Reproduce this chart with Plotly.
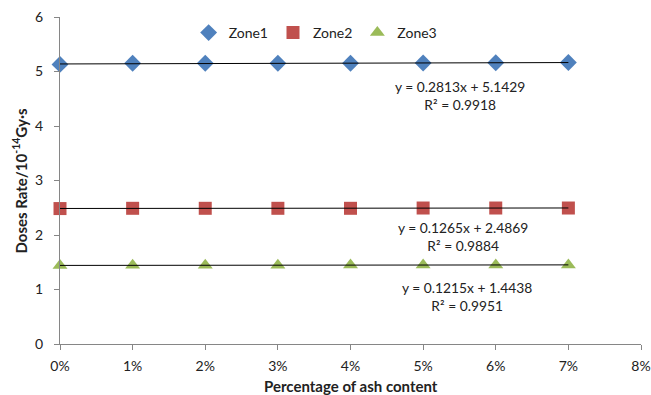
import numpy as np
import plotly.graph_objects as go

ash_pct = [0.00, 0.01, 0.02, 0.03, 0.04, 0.05, 0.06, 0.07]
zone1 = [5.13, 5.15, 5.15, 5.15, 5.15, 5.155, 5.16, 5.165]
zone2 = [2.485, 2.49, 2.49, 2.49, 2.49, 2.495, 2.495, 2.495]
zone3 = [1.44, 1.445, 1.445, 1.445, 1.45, 1.45, 1.45, 1.45]
series_names = ["Zone1", "Zone2", "Zone3"]
equations = ["y = 0.2813x + 5.1429<br>R² = 0.9918",
             "y = 0.1265x + 2.4869<br>R² = 0.9884",
             "y = 0.1215x + 1.4438<br>R² = 0.9951"]
eq_pos = [(0.0551, 4.56), (0.0555, 1.97), (0.0561, 0.87)]
x_ticks = [0.00, 0.01, 0.02, 0.03, 0.04, 0.05, 0.06, 0.07, 0.08]
y_ticks = [0, 1, 2, 3, 4, 5, 6]
x_title = "<b>Percentage of ash content</b>"
y_title = "<b>Doses Rate/10<sup>-14</sup>Gy·s</b>"

colors = ["#4F81BD", "#C0504D", "#9BBB59"]
symbols = ["diamond", "square", "triangle-up"]
sizes = [13, 13, 13]

fig = go.Figure()
all_series = [zone1, zone2, zone3]
for name, ys, c, s, sz in zip(series_names, all_series, colors, symbols, sizes):
    fig.add_trace(go.Scatter(x=ash_pct, y=ys, mode="markers", name=name,
                             marker=dict(color=c, symbol=s, size=sz, line=dict(width=0)),
                             cliponaxis=False))
for ys in all_series:
    k, b = np.polyfit(ash_pct, ys, 1)
    xs = [ash_pct[0], ash_pct[-1]]
    fig.add_trace(go.Scatter(x=xs, y=[k * v + b for v in xs], mode="lines",
                             line=dict(color="black", width=1), showlegend=False,
                             hoverinfo="skip", cliponaxis=False))

for txt, (ex, ey) in zip(equations, eq_pos):
    fig.add_annotation(x=ex, y=ey, text=txt, showarrow=False, xref="x", yref="y",
                       font=dict(size=13.8, color="#222222"), align="center")

# axis titles
fig.add_annotation(x=0.5, y=0, xref="paper", yref="paper", text=x_title, showarrow=False,
                   yshift=-42, yanchor="middle", xanchor="center",
                   font=dict(size=15, color="#222222"))
fig.add_annotation(x=0, y=0.5, xref="paper", yref="paper", text=y_title, showarrow=False,
                   xshift=-40, xanchor="center", yanchor="middle", textangle=-90,
                   font=dict(size=15, color="#222222"))

axis_common = dict(showgrid=False, zeroline=False, showline=True, linecolor="#868686",
                   linewidth=1, ticks="outside", ticklen=5, tickcolor="#868686",
                   tickfont=dict(size=14, color="#222222"), automargin=False)
fig.update_xaxes(range=[0, 0.08], tickvals=x_ticks, tickformat=".0%", ticklabelstandoff=4,
                 **axis_common)
fig.update_yaxes(range=[0, 6], tickvals=y_ticks, ticklabelstandoff=8,
                 **axis_common)

fig.update_layout(width=651, height=395, margin=dict(l=60, r=10, t=17, b=51),
                  plot_bgcolor="white", paper_bgcolor="white",
                  font=dict(family="Lato, Noto Sans, sans-serif"),
                  legend=dict(orientation="h", x=0.44, xanchor="center", y=1.0, yanchor="top",
                              font=dict(size=14, color="#222222"), itemwidth=30,
                              bgcolor="rgba(0,0,0,0)", tracegroupgap=0))
fig.write_html("out.html", config={"displayModeBar": False},
               post_script="document.body.style.margin='0';document.body.style.overflow='hidden';"
                           "document.documentElement.style.overflow='hidden';")
